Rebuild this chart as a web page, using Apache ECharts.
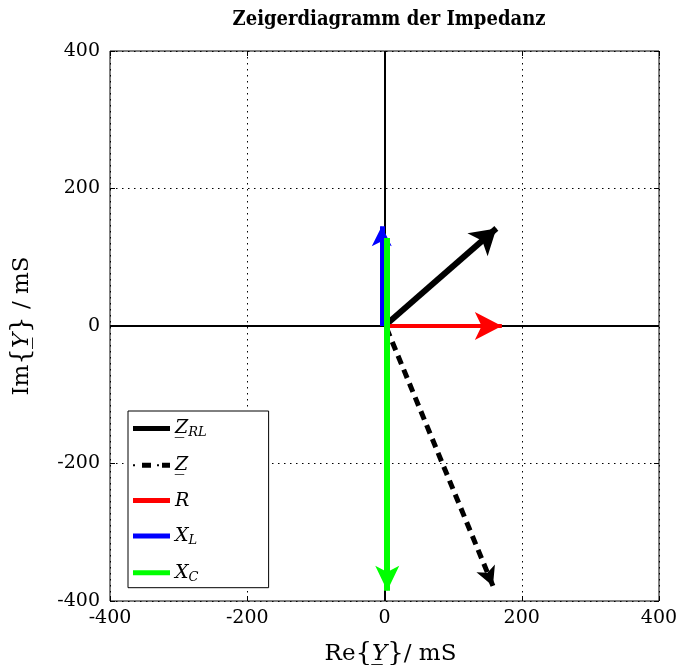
<!DOCTYPE html>
<html>
<head>
<meta charset="utf-8">
<script src="https://cdn.jsdelivr.net/npm/echarts@6/dist/echarts.min.js"></script>
<style>
  html, body { margin: 0; padding: 0; background: #fff; overflow: hidden; }
  #chart { width: 676px; height: 665px; }
</style>
</head>
<body>
<div id="chart"></div>
<script>
// phasors: start / end points (mS)
var names = ['Z_RL', 'Z', 'R', 'X_L', 'X_C'];
var startX = [0, 3, 0, -4, 4];
var startY = [0, -3, 0, 0, 128];
var endX = [163, 158, 171, -4, 4];
var endY = [142, -378, 0, 145, -385];
var axisTicks = [-400, -200, 0, 200, 400];

var colors = ['#000000', '#000000', '#ff0000', '#0000ff', '#00ff00'];
var widths = [6, 5, 4, 5, 6];
var dashes = ['solid', [9, 6], 'solid', 'solid', 'solid'];
var heads = [[23, 25], [15, 19], [21, 27], [15, 20], [18, 25]];

var serif = 'DejaVu Serif';
var solidIcon = 'path://M0,0H37V5H0Z';
var dashIcon = 'path://M0,1.5h2v2h-2zM9,0h9v5h-9zM24,1.5h2v2h-2zM29,0h8v5h-8z';

var legendText = {
  'Z_RL': '{i|Z\u0332}{s|RL}',
  'Z': '{i|Z\u0332}',
  'R': '{i|R}',
  'X_L': '{i|X}{s|L}',
  'X_C': '{i|X}{s|C}'
};

var chart = echarts.init(document.getElementById('chart'), null, { renderer: 'canvas' });

var series = names.map(function(n, i) {
  return {
    name: n,
    type: 'lines',
    coordinateSystem: 'cartesian2d',
    xAxisIndex: 0,
    yAxisIndex: 0,
    z: 3 + i,
    symbol: ['none', 'arrow'],
    symbolSize: [[1, 1], heads[i]],
    lineStyle: { color: colors[i], width: widths[i], type: dashes[i], opacity: 1, curveness: 0 },
    itemStyle: { color: colors[i] },
    effect: { show: false },
    data: [{ coords: [[startX[i], startY[i]], [endX[i], endY[i]]] }]
  };
});

// zero axes drawn over the phasors
series.push({
  type: 'line',
  name: 'axes',
  data: [],
  z: 20,
  markLine: {
    silent: true,
    symbol: 'none',
    label: { show: false },
    lineStyle: { color: '#000', width: 2, type: 'solid' },
    data: [{ xAxis: 0 }, { yAxis: 0 }]
  }
});

var tickLabel = { color: '#000', fontFamily: serif, fontSize: 19 };
var nameRich = {
  n: { fontFamily: serif, fontSize: 23, color: '#000' },
  i: { fontFamily: serif, fontStyle: 'italic', fontSize: 23, color: '#000' }
};

chart.setOption({
  animation: false,
  backgroundColor: '#fff',
  title: {
    text: 'Zeigerdiagramm der Impedanz',
    left: 384,
    top: 5,
    textAlign: 'center',
    textStyle: { fontFamily: 'DejaVu Serif Condensed', fontWeight: 'bold', fontSize: 20, color: '#000' }
  },
  grid: {
    left: 110, right: 17, top: 51, bottom: 64,
    outerBoundsMode: 'none',
    show: true, borderColor: '#000', borderWidth: 1, backgroundColor: '#fff'
  },
  legend: {
    orient: 'vertical',
    left: 128,
    top: 411,
    backgroundColor: '#fff',
    borderColor: '#000',
    borderWidth: 1,
    borderRadius: 0,
    padding: [8, 62, 4, 5],
    itemWidth: 37,
    itemHeight: 5,
    itemGap: 16.3,
    itemTextGap: 9,
    selectedMode: false,
    data: names.map(function(n, i) {
      return { name: n, icon: i === 1 ? dashIcon : solidIcon, itemStyle: { color: colors[i], borderWidth: 0 } };
    }),
    formatter: function(n) { return legendText[n]; },
    textStyle: {
      color: '#000',
      rich: {
        i: { fontFamily: serif, fontStyle: 'italic', fontSize: 19, lineHeight: 22, color: '#000' },
        s: { fontFamily: serif, fontStyle: 'italic', fontSize: 13, lineHeight: 14, verticalAlign: 'bottom', color: '#000' }
      }
    }
  },
  xAxis: [{
    type: 'value',
    min: -400, max: 400, interval: 200,
    position: 'bottom',
    name: '{n|Re}{{i|Y\u0332}}{n|/ mS}',
    nameLocation: 'middle',
    nameGap: 40,
    nameTextStyle: { color: '#000', fontFamily: serif, fontSize: 26, padding: [0, 0, 0, 12], rich: nameRich },
    axisLine: { show: false, onZero: false },
    axisTick: { show: true, inside: true, length: 5, lineStyle: { color: '#000' } },
    axisLabel: Object.assign({ margin: 8, showMinLabel: true, showMaxLabel: true,
      formatter: function(v) { return axisTicks.indexOf(v) >= 0 ? String(v) : ''; } }, tickLabel),
    splitLine: { show: true, lineStyle: { color: '#000', width: 1, type: [1.5, 4.5] } }
  }, {
    type: 'value',
    min: -400, max: 400, interval: 200,
    position: 'top',
    axisLine: { show: false, onZero: false },
    axisTick: { show: true, inside: true, length: 5, lineStyle: { color: '#000' } },
    axisLabel: { show: false },
    splitLine: { show: false }
  }],
  yAxis: [{
    type: 'value',
    min: -400, max: 400, interval: 200,
    position: 'left',
    name: '{n|Im}{{i|Y\u0332}}{n| / mS}',
    nameLocation: 'middle',
    nameRotate: 90,
    nameGap: 75,
    nameTextStyle: { color: '#000', fontFamily: serif, fontSize: 26, rich: nameRich },
    axisLine: { show: false, onZero: false },
    axisTick: { show: true, inside: true, length: 5, lineStyle: { color: '#000' } },
    axisLabel: Object.assign({ margin: 10, showMinLabel: true, showMaxLabel: true }, tickLabel),
    splitLine: { show: true, lineStyle: { color: '#000', width: 1, type: [1.5, 4.5] } }
  }, {
    type: 'value',
    min: -400, max: 400, interval: 200,
    position: 'right',
    axisLine: { show: false, onZero: false },
    axisTick: { show: true, inside: true, length: 5, lineStyle: { color: '#000' } },
    axisLabel: { show: false },
    splitLine: { show: false }
  }],
  series: series
});
window.addEventListener('resize', function() { chart.resize(); });
</script>
</body>
</html>
